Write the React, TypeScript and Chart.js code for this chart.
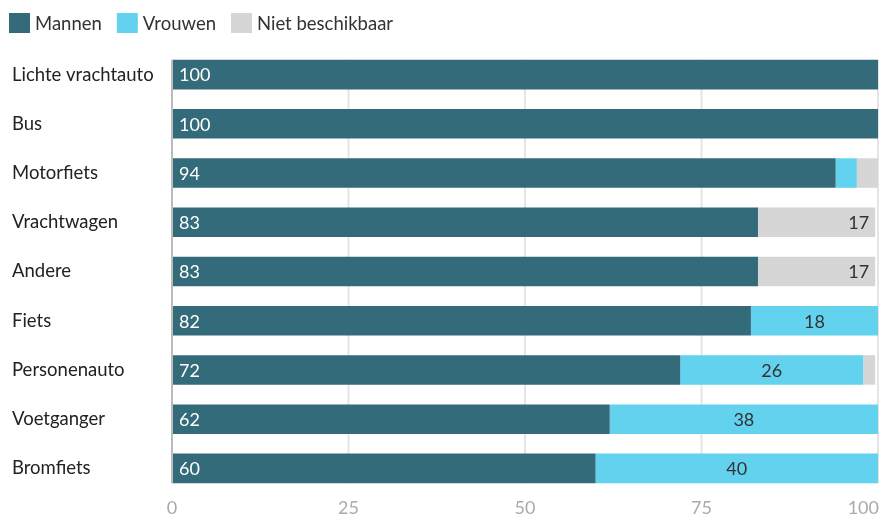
import React, { useEffect, useRef } from "react";
import { Chart, registerables } from "chart.js";

Chart.register(...registerables);

const categories = ["Lichte vrachtauto", "Bus", "Motorfiets", "Vrachtwagen", "Andere", "Fiets", "Personenauto", "Voetganger", "Bromfiets"];
const mannen = [100, 100, 94, 83, 83, 82, 72, 62, 60];
const vrouwen = [0, 0, 3, 0, 0, 18, 25.9, 38, 40];
const nietBeschikbaar = [0, 0, 3, 16.6, 16.6, 0, 1.7, 0, 0];
const xTicks = [0, 25, 50, 75, 100];

const FONT = "Lato, 'Open Sans', sans-serif";

const gridPlugin = {
  id: "customGrid",
  beforeDatasetsDraw(chart: any) {
    const ctx = chart.ctx;
    const meta = chart.getDatasetMeta(0);
    const first = meta.data[0];
    const last = meta.data[meta.data.length - 1];
    const top = first.y - first.height / 2;
    const bottom = last.y + last.height / 2;
    const xs = chart.scales.x;
    ctx.save();
    ctx.lineWidth = 2;
    ctx.strokeStyle = "#e5e5e5";
    xTicks.forEach((v) => {
      if (v === 0) return;
      const x = Math.min(xs.getPixelForValue(v), chart.width - 2);
      ctx.beginPath();
      ctx.moveTo(x, top);
      ctx.lineTo(x, bottom);
      ctx.stroke();
    });
    ctx.restore();
  },
  afterDatasetsDraw(chart: any) {
    const ctx = chart.ctx;
    const meta = chart.getDatasetMeta(0);
    const first = meta.data[0];
    const last = meta.data[meta.data.length - 1];
    const top = first.y - first.height / 2;
    const bottom = last.y + last.height / 2;
    const x0 = chart.scales.x.getPixelForValue(0);
    ctx.save();
    ctx.lineWidth = 2;
    ctx.strokeStyle = "#bbbbbb";
    ctx.beginPath();
    ctx.moveTo(x0, top);
    ctx.lineTo(x0, bottom);
    ctx.stroke();
    ctx.restore();
  },
};

const labelPlugin = {
  id: "barLabels",
  afterDatasetsDraw(chart: any) {
    const ctx = chart.ctx;
    ctx.save();
    ctx.font = `18px ${FONT}`;
    ctx.textBaseline = "middle";
    chart.data.datasets.forEach((ds: any, di: number) => {
      const meta = chart.getDatasetMeta(di);
      meta.data.forEach((bar: any, i: number) => {
        const v = ds.data[i];
        if (!v || v < 5) return;
        const left = Math.min(bar.x, bar.base);
        const right = Math.max(bar.x, bar.base);
        const txt = String(Math.round(v));
        if (di === 0) {
          ctx.fillStyle = "#ffffff";
          ctx.textAlign = "left";
          ctx.fillText(txt, left + 7, bar.y + 1);
        } else if (di === 1) {
          ctx.fillStyle = "#333333";
          ctx.textAlign = "center";
          ctx.fillText(txt, (left + right) / 2, bar.y + 1);
        } else {
          ctx.fillStyle = "#333333";
          ctx.textAlign = "right";
          ctx.fillText(txt, right - 6, bar.y + 1);
        }
      });
    });

    // x-axis tick labels
    const xs = chart.scales.x;
    const area = chart.chartArea;
    ctx.fillStyle = "#aaaaaa";
    ctx.textAlign = "left";
    xTicks.forEach((v) => {
      const txt = String(v);
      const w = ctx.measureText(txt).width;
      let x = xs.getPixelForValue(v) - w / 2;
      if (x + w > chart.width - 2) x = chart.width - 2 - w;
      ctx.fillText(txt, x, area.bottom + 15);
    });

    // legend
    ctx.font = `18.5px ${FONT}`;
    let lx = 9;
    chart.data.datasets.forEach((ds: any) => {
      ctx.fillStyle = ds.backgroundColor;
      ctx.fillRect(lx, 13, 21, 20);
      ctx.fillStyle = "#333333";
      ctx.textAlign = "left";
      ctx.fillText(ds.label, lx + 26, 24);
      lx += 26 + ctx.measureText(ds.label).width + 15;
    });
    ctx.restore();
  },
};

export default function App() {
  const ref = useRef<HTMLCanvasElement>(null);
  useEffect(() => {
    document.body.style.margin = "0";
    const chart = new Chart(ref.current!, {
      type: "bar",
      data: {
        labels: categories,
        datasets: [
          { label: "Mannen", data: mannen, backgroundColor: "#346b7a" },
          { label: "Vrouwen", data: vrouwen, backgroundColor: "#62d2ef" },
          { label: "Niet beschikbaar", data: nietBeschikbaar, backgroundColor: "#d6d6d6" },
        ],
      },
      options: {
        indexAxis: "y",
        animation: false,
        responsive: false,
        maintainAspectRatio: false,
        layout: { padding: { left: 12, right: 3, top: 50, bottom: 23 } },
        datasets: { bar: { barPercentage: 0.6, categoryPercentage: 1 } },
        plugins: {
          legend: { display: false },
          tooltip: { enabled: false },
        },
        scales: {
          x: {
            stacked: true,
            min: 0,
            max: 100,
            afterBuildTicks: (axis: any) => {
              axis.ticks = xTicks.map((v) => ({ value: v }));
            },
            grid: { display: false, drawTicks: false },
            border: { display: false },
            ticks: { display: false },
          },
          y: {
            stacked: true,
            grid: { display: false, drawTicks: false },
            border: { display: false },
            afterFit: (axis: any) => {
              axis.width = 160;
            },
            ticks: {
              crossAlign: "far",
              color: "#222222",
              padding: 8,
              font: { family: FONT, size: 18.5 },
            },
          },
        },
      },
      plugins: [gridPlugin, labelPlugin],
    });
    return () => chart.destroy();
  }, []);
  return (
    <div style={{ width: 881, height: 516 }}>
      <canvas ref={ref} width={881} height={516} />
    </div>
  );
}
